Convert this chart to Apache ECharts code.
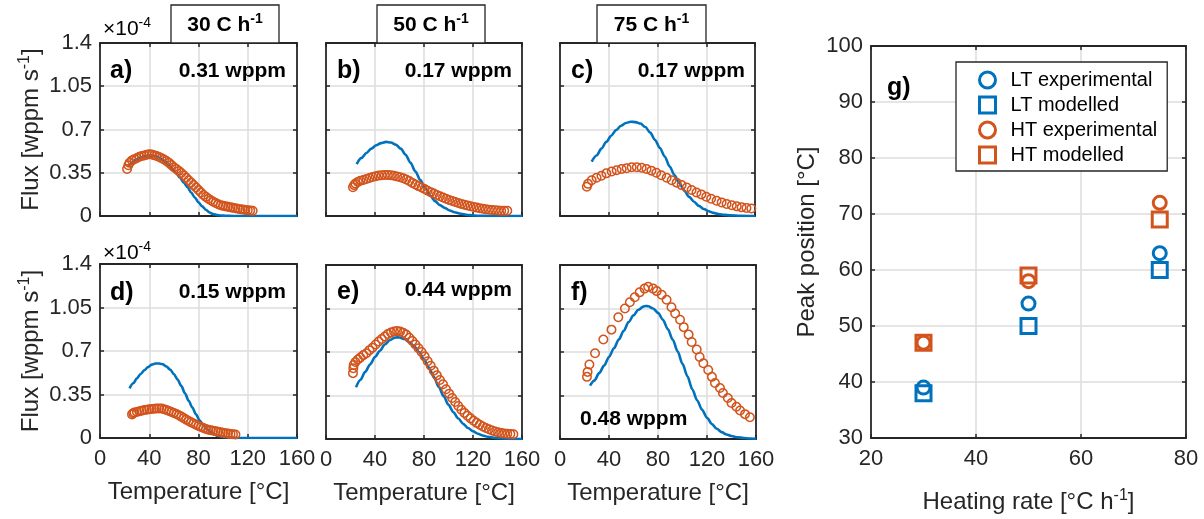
<!DOCTYPE html>
<html><head><meta charset="utf-8">
<script src="https://cdn.jsdelivr.net/npm/echarts@6/dist/echarts.min.js"></script>
<style>html,body{margin:0;padding:0;background:#fff}#c{width:1204px;height:519px}</style>
</head><body><div id="c"></div>
<script>
// ---------------- DATA (flux in units of 1e-4 wppm/s, temperature in °C) ----------------
const tempTicks = [0, 40, 80, 120, 160];
const fluxTicks = [0, 0.35, 0.7, 1.05, 1.4];
const rateLabels = ['30 C h', '50 C h', '75 C h'];
const panelLetters = ['a)', 'b)', 'c)', 'd)', 'e)', 'f)'];
const panelConc = ['0.31 wppm', '0.17 wppm', '0.17 wppm', '0.15 wppm', '0.44 wppm', '0.48 wppm'];

// panel a (30 C/h, top)
const modelA = [[23,.40],[26,.43],[29,.455],[32,.47],[35,.48],[38,.487],[41,.49],[44,.487],[47,.478],[50,.462],[53,.44],[56,.412],[59,.38],[62,.345],[65,.31],[68,.27],[71,.235],[74,.19],[77,.15],[80,.11],[83,.078],[86,.05],[89,.028],[92,.015],[95,.008],[98,.004],[102,.002],[108,0],[160,0]];
const expA = [[22,.38],[23,.41],[24,.43],[26,.45],[28,.46],[30,.47],[32,.48],[34,.485],[36,.49],[38,.495],[40,.50],[42,.497],[44,.492],[46,.486],[48,.478],[50,.468],[52,.457],[54,.445],[56,.43],[58,.413],[60,.395],[62,.38],[64,.365],[66,.348],[68,.33],[70,.31],[72,.29],[74,.27],[76,.25],[78,.23],[80,.21],[82,.19],[84,.17],[86,.155],[88,.14],[90,.127],[92,.115],[94,.105],[96,.095],[98,.088],[100,.082],[102,.078],[104,.074],[106,.07],[108,.066],[110,.062],[112,.058],[114,.055],[116,.052],[118,.049],[120,.046],[122,.044],[124,.042]];
// panel b (50 C/h, top)
const modelB = [[25,.42],[29,.47],[33,.51],[37,.545],[41,.572],[45,.59],[49,.60],[53,.595],[57,.578],[61,.545],[65,.495],[69,.43],[73,.36],[77,.29],[81,.225],[85,.165],[89,.12],[93,.088],[97,.065],[101,.045],[105,.03],[110,.018],[117,.007],[125,.002],[135,0],[160,0]];
const expB = [[22,.232],[23,.25],[24,.262],[26,.275],[28,.285],[30.5,.292],[33,.30],[35.5,.308],[38,.316],[40.5,.322],[43,.327],[45.5,.33],[48,.332],[50.5,.332],[53,.33],[55.5,.326],[58,.32],[60.5,.313],[63,.305],[65.5,.295],[68,.283],[70.5,.268],[73,.255],[75.5,.242],[78,.23],[80.5,.218],[83,.205],[85.5,.193],[88,.182],[90.5,.17],[93,.16],[95.5,.15],[98,.14],[100.5,.13],[103,.121],[105.5,.113],[108,.105],[110.5,.098],[113,.091],[115.5,.085],[118,.079],[120.5,.073],[123,.068],[125.5,.063],[128,.059],[130.5,.055],[133,.051],[135.5,.048],[138,.046],[140.5,.044],[143,.043],[145.5,.042],[148,.042]];
// panel c (75 C/h, top)
const modelC = [[26,.44],[30,.49],[34,.545],[38,.60],[42,.65],[46,.695],[50,.73],[54,.752],[58,.763],[62,.76],[66,.748],[70,.72],[74,.675],[78,.615],[82,.55],[86,.48],[90,.40],[94,.33],[98,.265],[102,.205],[106,.155],[110,.115],[114,.082],[118,.057],[122,.038],[126,.025],[130,.016],[135,.009],[140,.005],[148,.002],[160,0]];
const expC = [[22,.237],[23,.26],[26,.29],[30,.31],[34,.326],[38,.345],[42.4,.36],[46.5,.37],[50.6,.38],[54.7,.386],[58.8,.394],[63,.394],[67,.39],[71,.38],[75,.367],[79,.35],[83,.33],[87.5,.31],[91.6,.29],[95.7,.27],[99.8,.25],[104,.23],[108,.21],[112,.19],[116,.175],[120,.156],[124,.14],[128.5,.124],[132.6,.11],[136.7,.097],[141,.087],[145,.078],[149,.07],[153,.065],[157,.06]];
// panel d (30 C/h, bottom)
const modelD = [[24,.40],[27,.44],[30,.48],[33,.515],[36,.545],[39,.57],[42,.59],[45,.60],[48,.60],[51,.593],[54,.575],[57,.55],[60,.515],[63,.47],[66,.42],[69,.36],[72,.30],[75,.245],[78,.19],[81,.14],[84,.10],[87,.07],[90,.045],[93,.028],[96,.016],[100,.008],[105,.003],[112,0],[160,0]];
const expD = [[26,.19],[27,.20],[28,.205],[30,.21],[32,.215],[34,.22],[36,.225],[38,.228],[40,.231],[42,.233],[44,.235],[46,.237],[48,.238],[50,.237],[52,.232],[54,.225],[56,.218],[58,.21],[60,.202],[62,.193],[64,.183],[66,.172],[68,.16],[70,.148],[72,.137],[74,.126],[76,.116],[78,.106],[80,.097],[82,.088],[84,.08],[86,.073],[88,.067],[90,.062],[92,.058],[94,.054],[96,.05],[98,.046],[100,.042],[102,.039],[104,.036],[106,.033],[108,.03],[110,.028]];
// panel e (50 C/h, bottom)
const modelE = [[24.5,.416],[28,.475],[32,.54],[36,.60],[40,.66],[44,.71],[48,.76],[52,.795],[56,.815],[58,.818],[60,.817],[64,.805],[68,.78],[72,.745],[76,.70],[80,.64],[84,.575],[88,.50],[92,.42],[96,.345],[100,.275],[104,.215],[108,.165],[112,.122],[116,.088],[120,.062],[124,.042],[128,.028],[132,.018],[138,.009],[145,.004],[152,.001],[160,0]];
const expE = [[22,.53],[22.3,.57],[22.6,.595],[24,.62],[26,.64],[28,.655],[30.5,.675],[33,.69],[35.5,.715],[38,.735],[40.5,.76],[43,.785],[45.5,.805],[48,.825],[50.5,.845],[53,.857],[55.5,.865],[58,.868],[60.5,.864],[63,.855],[65.5,.84],[68,.815],[70.5,.788],[73,.76],[75.5,.73],[78,.70],[80.5,.665],[83,.625],[85.5,.59],[88,.55],[90.5,.512],[93,.475],[95.5,.44],[98,.40],[100.5,.365],[103,.33],[105.5,.297],[108,.265],[110.5,.235],[113,.21],[115.5,.187],[118,.166],[120.5,.147],[123,.13],[125.5,.114],[128,.10],[130.5,.088],[133,.078],[135.5,.069],[138,.061],[140.5,.054],[143,.049],[145.5,.045],[148,.042],[150.5,.04],[153,.038]];
// panel f (75 C/h, bottom)
const modelF = [[24.5,.43],[28,.47],[32,.53],[36,.59],[40,.66],[44,.73],[48,.80],[52,.87],[56,.94],[60,.995],[64,1.04],[68,1.065],[70,1.07],[72,1.068],[76,1.05],[80,1.015],[84,.96],[88,.885],[92,.80],[96,.705],[100,.605],[104,.505],[108,.40],[112,.31],[116,.235],[120,.17],[124,.12],[128,.082],[132,.055],[136,.036],[140,.024],[145,.014],[150,.008],[155,.004],[160,.002]];
const expF = [[22,.50],[22.5,.54],[24,.60],[28.6,.69],[35.4,.80],[42,.88],[47.6,.98],[53,1.05],[57,1.10],[61,1.14],[65,1.18],[69,1.21],[72,1.225],[76,1.21],[79,1.19],[83,1.16],[87,1.12],[91,1.06],[94,1.01],[98,.96],[101,.90],[105,.84],[107.5,.78],[111.6,.72],[114,.66],[117,.61],[121,.555],[124,.50],[126.5,.45],[130.6,.41],[133,.37],[137,.33],[140,.29],[144,.26],[147,.23],[151,.20],[155,.175]];

// panel g: peak positions
const heatingRates = [30, 50, 75];
const ltExperimental = [39, 54, 63];
const ltModelled = [38, 50, 60];
const htExperimental = [47, 58, 72];
const htModelled = [47, 59, 69];
const rateTicks = [20, 40, 60, 80];
const peakTicks = [30, 40, 50, 60, 70, 80, 90, 100];

// ---------------- STYLE / LAYOUT ----------------
const FONT = '"Liberation Sans", Arial, Helvetica, sans-serif';
const INK = '#262626';
const BLUE = '#0072BD', ORANGE = '#D2541C';
const GRIDC = '#dcdcdc';

const layouts = [
  {left:100, top:43, width:197, height:173},
  {left:326, top:43, width:196, height:173},
  {left:560, top:43, width:195, height:173},
  {left:100, top:264, width:197, height:174},
  {left:326, top:265, width:196, height:174},
  {left:560, top:265, width:196, height:174},
];
const models = [modelA, modelB, modelC, modelD, modelE, modelF];
const exps = [expA, expB, expC, expD, expE, expF];

const supRich = (fs, bold) => ({
  n: {fontSize: fs, fontFamily: FONT, color: bold ? '#000' : INK, fontWeight: bold ? 'bold' : 'normal', lineHeight: fs + 4},
  s: {fontSize: Math.round(fs * 0.68), fontFamily: FONT, color: bold ? '#000' : INK, fontWeight: bold ? 'bold' : 'normal', verticalAlign: 'top', lineHeight: Math.round(fs * 0.68)}
});

const grids = [], xAxes = [], yAxes = [], series = [], xTop = [], yRight = [];
const fmt = v => String(parseFloat((+v).toFixed(2)));

function addAxes(i, lay, xmin, xmax, xint, ymin, ymax, yint, showX, showY, xName, yName, xGap, yGap) {
  grids.push(Object.assign({containLabel: false, show: false}, lay));
  xAxes.push({
    type: 'value', gridIndex: i, min: xmin, max: xmax, interval: xint, position: 'bottom',
    axisLine: {show: true, onZero: false, lineStyle: {color: INK, width: 1.8}},
    axisTick: {show: true, inside: true, length: 4, lineStyle: {color: INK, width: 1.5}},
    axisLabel: {show: showX, fontSize: 22, fontFamily: FONT, color: INK, margin: 10, formatter: fmt},
    splitLine: {show: true, showMinLine: false, showMaxLine: false, lineStyle: {color: GRIDC, width: 1.5}},
    name: xName || '', nameLocation: 'middle', nameGap: xGap || 42,
    nameTextStyle: {fontSize: 24, fontFamily: FONT, color: INK, rich: supRich(24, false)}
  });
  yAxes.push({
    type: 'value', gridIndex: i, min: ymin, max: ymax, interval: yint, position: 'left',
    axisLine: {show: true, onZero: false, lineStyle: {color: INK, width: 1.8}},
    axisTick: {show: true, inside: true, length: 4, lineStyle: {color: INK, width: 1.5}},
    axisLabel: {show: showY, fontSize: 22, fontFamily: FONT, color: INK, margin: 8, formatter: fmt},
    splitLine: {show: true, showMinLine: false, showMaxLine: false, lineStyle: {color: GRIDC, width: 1.5}},
    name: yName || '', nameLocation: 'middle', nameGap: yGap || 56, nameRotate: 90,
    nameTextStyle: {fontSize: 24, fontFamily: FONT, color: INK, rich: supRich(24, false)}
  });
  xTop.push({
    type: 'value', gridIndex: i, min: xmin, max: xmax, interval: xint, position: 'top',
    axisLine: {show: true, onZero: false, lineStyle: {color: INK, width: 1.8}},
    axisTick: {show: true, inside: true, length: 4, lineStyle: {color: INK, width: 1.5}},
    axisLabel: {show: false}, splitLine: {show: false}
  });
  yRight.push({
    type: 'value', gridIndex: i, min: ymin, max: ymax, interval: yint, position: 'right',
    axisLine: {show: true, onZero: false, lineStyle: {color: INK, width: 1.8}},
    axisTick: {show: true, inside: true, length: 4, lineStyle: {color: INK, width: 1.5}},
    axisLabel: {show: false}, splitLine: {show: false}
  });
}

const fluxName = '{n|Flux [wppm s}{s|-1}{n|]}';
const tempName = 'Temperature [°C]';
for (let i = 0; i < 6; i++) {
  const bottom = i >= 3, leftCol = (i % 3) === 0;
  addAxes(i, layouts[i], tempTicks[0], tempTicks[tempTicks.length - 1], 40,
    fluxTicks[0], fluxTicks[fluxTicks.length - 1], 0.35,
    bottom, leftCol, bottom ? tempName : '', leftCol ? fluxName : '', 42, 55);
  series.push({
    type: 'line', xAxisIndex: i, yAxisIndex: i, data: models[i], showSymbol: false,
    smooth: 0.3, smoothMonotone: 'x', lineStyle: {color: BLUE, width: 2.6}, itemStyle: {color: BLUE}, z: 3
  });
  series.push({
    type: 'scatter', xAxisIndex: i, yAxisIndex: i, data: exps[i], symbol: 'circle', symbolSize: 8.5,
    itemStyle: {color: 'rgba(0,0,0,0)', borderColor: ORANGE, borderWidth: 1.5, opacity: 1}, z: 4
  });
}
// panel g
addAxes(6, {left:871, top:46, width:315, height:392}, rateTicks[0], rateTicks[rateTicks.length - 1], 20,
  peakTicks[0], peakTicks[peakTicks.length - 1], 10, true, true,
  '{n|Heating rate [°C h}{s|-1}{n|]}', 'Peak position [°C]', 50, 52);

const gSeries = [
  {name: 'LT modelled', vals: ltModelled, sym: 'rect', size: 15, color: BLUE},
  {name: 'HT modelled', vals: htModelled, sym: 'rect', size: 15, color: ORANGE},
  {name: 'LT experimental', vals: ltExperimental, sym: 'circle', size: 13, color: BLUE},
  {name: 'HT experimental', vals: htExperimental, sym: 'circle', size: 13, color: ORANGE},
];
gSeries.forEach(s => series.push({
  type: 'scatter', name: s.name, xAxisIndex: 6, yAxisIndex: 6, symbol: s.sym, symbolSize: s.size,
  data: heatingRates.map((r, k) => [r, s.vals[k]]),
  itemStyle: {color: 'rgba(0,0,0,0)', borderColor: s.color, borderWidth: 3, opacity: 1}, z: 4
}));

const allX = xAxes.concat(xTop), allY = yAxes.concat(yRight);

// ---------------- ANNOTATIONS ----------------
const graphic = [];
const boxes = [{x:171, w:108}, {x:377, w:108}, {x:597, w:109}];
boxes.forEach((b, k) => {
  graphic.push({type: 'rect', shape: {x: b.x, y: 5, width: b.w, height: 38},
    style: {fill: '#fff', stroke: INK, lineWidth: 1.3}, z: 10});
  graphic.push({type: 'text', x: b.x + b.w / 2, y: 25, z: 11,
    style: {text: '{n|' + rateLabels[k] + '}{s|-1}', align: 'center', verticalAlign: 'middle', rich: supRich(21, true)}});
});
// ×10^-4 exponent labels
[29, 253].forEach(yy => graphic.push({type: 'text', x: 103, y: yy, z: 11,
  style: {text: '{n|×10}{s|-4}', align: 'left', verticalAlign: 'middle', rich: supRich(21, false)}}));
// panel letters and concentrations
const letterPos = [[110,71],[337,71],[571,71],[110,293],[337,292],[571,293]];
const concPos = [[286,71,'right'],[512,71,'right'],[745,71,'right'],[286,292,'right'],[512,290,'right'],[580,419,'left']];
for (let i = 0; i < 6; i++) {
  graphic.push({type: 'text', x: letterPos[i][0], y: letterPos[i][1], z: 11,
    style: {text: panelLetters[i], fill: '#000', fontSize: 25, fontWeight: 'bold', fontFamily: FONT, align: 'left', verticalAlign: 'middle'}});
  graphic.push({type: 'text', x: concPos[i][0], y: concPos[i][1], z: 11,
    style: {text: panelConc[i], fill: '#000', fontSize: 21, fontWeight: 'bold', fontFamily: FONT, align: concPos[i][2], verticalAlign: 'middle'}});
}
graphic.push({type: 'text', x: 887, y: 88, z: 11,
  style: {text: 'g)', fill: '#000', fontSize: 25, fontWeight: 'bold', fontFamily: FONT, align: 'left', verticalAlign: 'middle'}});

const legendItem = (name, icon, color) => ({name, icon, itemStyle: {color: 'rgba(0,0,0,0)', borderColor: color, borderWidth: 3}});

const chart = echarts.init(document.getElementById('c'), null, {renderer: 'canvas'});
chart.setOption({
  animation: false,
  backgroundColor: '#fff',
  grid: grids,
  xAxis: allX,
  yAxis: allY,
  series: series,
  graphic: graphic,
  legend: {
    left: 956, top: 62, orient: 'vertical', backgroundColor: '#fff', borderColor: INK, borderWidth: 1.3,
    padding: [8, 10, 6, 22], itemGap: 5, itemWidth: 16, itemHeight: 16, selectedMode: false,
    textStyle: {fontSize: 20, fontFamily: FONT, color: '#000', padding: [0, 0, 0, 10]},
    data: [legendItem('LT experimental', 'circle', BLUE), legendItem('LT modelled', 'rect', BLUE),
           legendItem('HT experimental', 'circle', ORANGE), legendItem('HT modelled', 'rect', ORANGE)]
  }
});
</script></body></html>
